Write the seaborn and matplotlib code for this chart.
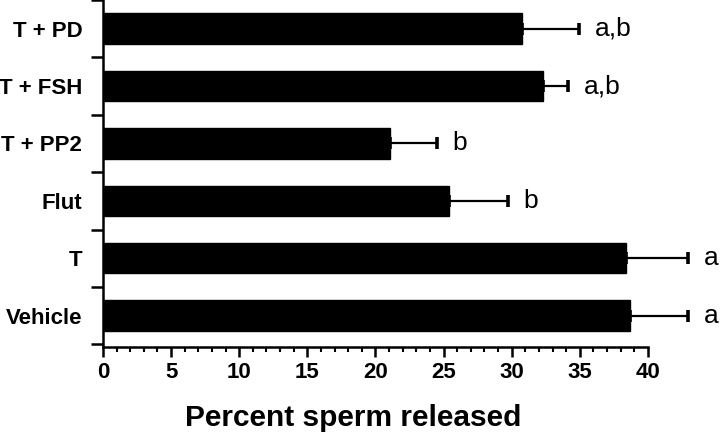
import matplotlib
matplotlib.use("Agg")
import matplotlib.pyplot as plt
import matplotlib.ticker as ticker
import seaborn as sns
import numpy as np

# values
groups = ["T + PD", "T + FSH", "T + PP2", "Flut", "T", "Vehicle"]
means = [30.75, 32.3, 21.1, 25.4, 38.4, 38.7]
sems = [4.15, 1.8, 3.4, 4.3, 4.5, 4.2]
letters = ["a,b", "a,b", "b", "b", "a", "a"]

sns.set_style("ticks")
plt.rcParams['font.family'] = ['Liberation Sans', 'DejaVu Sans']
plt.rcParams.update({"text.color": "black", "axes.labelcolor": "black",
                     "xtick.color": "black", "ytick.color": "black",
                     "axes.edgecolor": "black"})

fig = plt.figure(figsize=(7.2, 4.34), dpi=100)
ax = fig.add_axes([0.143, 0.2, 0.757, 0.8])

sns.barplot(x=means, y=groups, color="black", width=0.53,
            errorbar=None, ax=ax, orient="h")
for p in ax.patches:
    p.set_edgecolor("black")

pos = np.arange(len(groups))
ax.errorbar(means, pos, xerr=[np.zeros(len(sems)), sems], fmt="none",
            ecolor="black", elinewidth=1.6, capsize=4.3, capthick=2.6,
            clip_on=False, zorder=3)

# significance letters just right of each error bar
for m, s, y, lab in zip(means, sems, pos, letters):
    ax.annotate(lab, (m + s, y), xytext=(11.5, 0), textcoords="offset points",
                ha="left", va="center", fontsize=19, annotation_clip=False)

ax.set_xlim(0, 40)
ax.set_ylim(5.55, -0.5)
ax.xaxis.set_major_locator(ticker.MultipleLocator(5))
ax.xaxis.set_minor_locator(ticker.MultipleLocator(1))

# category labels centred on bars, tick marks between bars
ax.set_yticks(pos)
ax.set_yticks(np.arange(-0.5, len(groups), 1.0), minor=True)
ax.tick_params(axis="y", which="major", length=0, pad=15)
ax.tick_params(axis="y", which="minor", length=9, width=1.8)
ax.tick_params(axis="x", which="major", length=7, width=1.8, pad=4)
ax.tick_params(axis="x", which="minor", length=3.5, width=1.5)
for lbl in ax.get_yticklabels() + ax.get_xticklabels():
    lbl.set_fontsize(16)
    lbl.set_fontweight("bold")

ax.set_ylabel("")
ax.set_xlabel("Percent sperm released", fontsize=21.5, fontweight="bold",
              labelpad=17)
ax.xaxis.set_label_coords(0.46, -0.165)

sns.despine(ax=ax)
for side in ["left", "bottom"]:
    ax.spines[side].set_linewidth(1.8)

fig.savefig("out.png", dpi=100)
